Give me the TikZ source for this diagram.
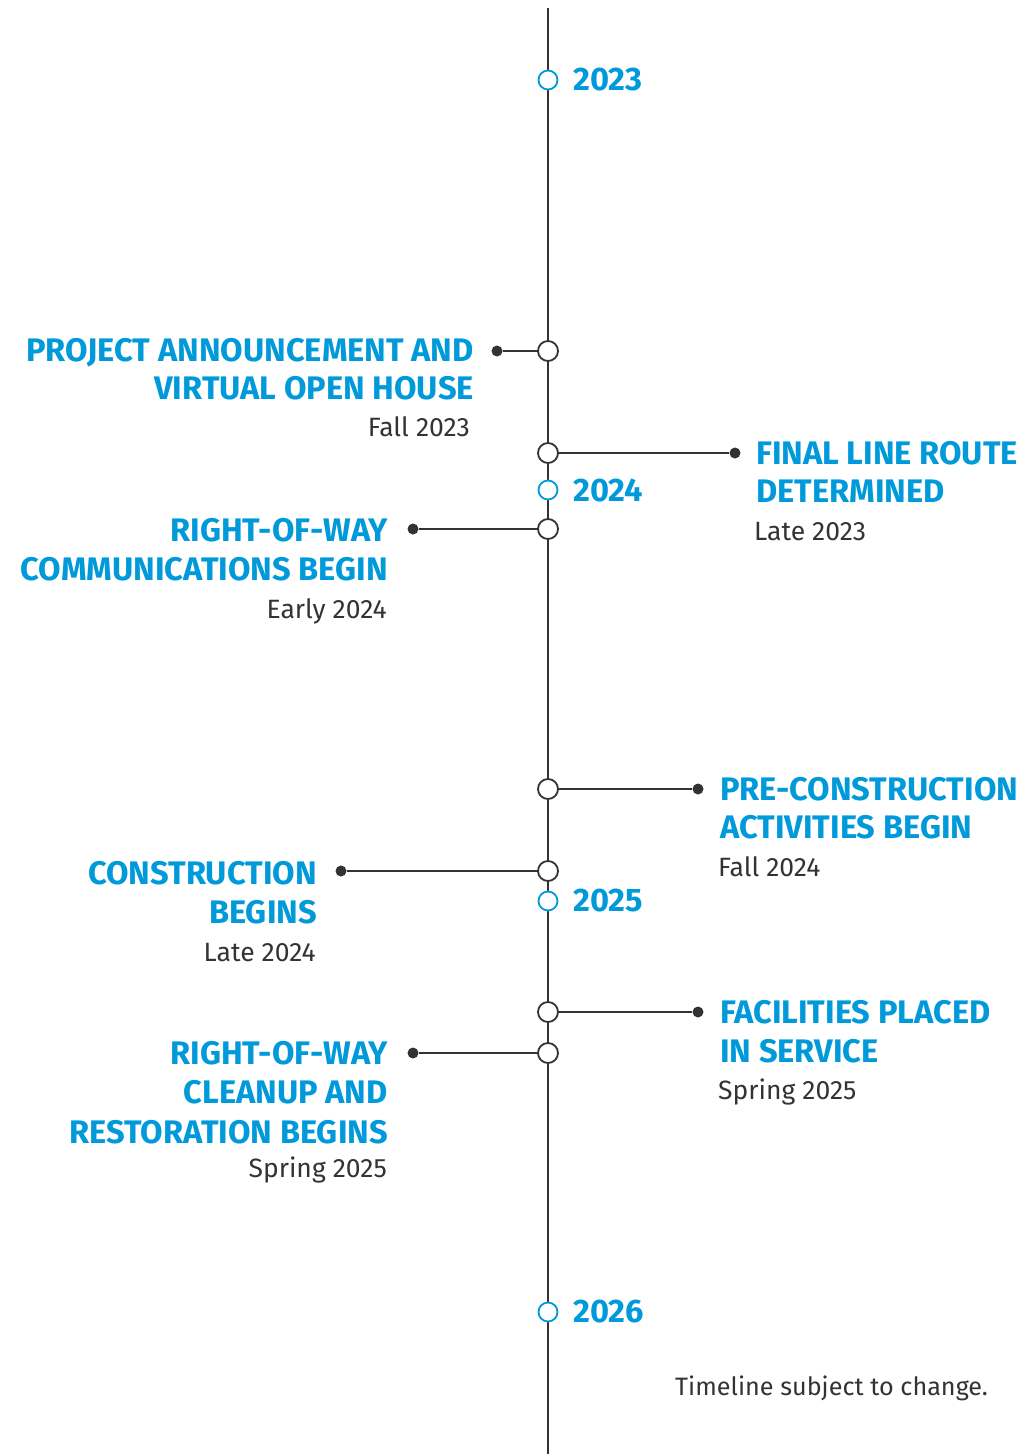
\documentclass[tikz,border=0pt]{standalone}
\usepackage{fontspec}
\setmainfont{Fira Sans}
\definecolor{tlblue}{RGB}{0,153,218}
\definecolor{tlgray}{RGB}{51,51,51}
\begin{document}
\begin{tikzpicture}[x=1pt,y=-1pt,
  head/.style={inner sep=0pt,text=tlblue,font=\fontsize{32.6}{32.6}\selectfont\bfseries},
  sub/.style={inner sep=0pt,text=tlgray,font=\fontsize{26.5}{26.5}\selectfont},
  notestyle/.style={inner sep=0pt,text=tlgray,font=\fontsize{25.2}{25.2}\selectfont},
  yearc/.style={circle,draw=tlblue,line width=1.8pt,fill=white,minimum size=19pt,inner sep=0pt},
  evc/.style={circle,draw=tlgray,line width=1.8pt,fill=white,minimum size=20pt,inner sep=0pt},
  dotc/.style={circle,fill=tlgray,minimum size=11pt,inner sep=0pt},
  conn/.style={draw=tlgray,line width=1.8pt}]
\useasboundingbox (0,0) rectangle (1022,1454);
\coordinate (top) at (548,8);
\coordinate (bot) at (548,1454);
\draw[conn] (top) -- (bot);
% years
\node[yearc] (y23) at (548,80) {};
\node[yearc] (y24) at (548,490) {};
\node[yearc] (y25) at (548,901) {};
\node[yearc] (y26) at (548,1312) {};
\node[head,anchor=west] (t23) at (573,80) {2023};
\node[head,anchor=west] (t24) at (573,490) {2024};
\node[head,anchor=west] (t25) at (573,901) {2025};
\node[head,anchor=west] (t26) at (573,1312) {2026};
% events
\node[dotc] (d1) at (497,351) {};
\node[evc] (e1) at (548,351) {};
\draw[conn] (d1) -- (e1);
\node[dotc] (d2) at (735,453) {};
\node[evc] (e2) at (548,453) {};
\draw[conn] (e2) -- (d2);
\node[dotc] (d3) at (413,529) {};
\node[evc] (e3) at (548,529) {};
\draw[conn] (d3) -- (e3);
\node[dotc] (d4) at (698,789) {};
\node[evc] (e4) at (548,789) {};
\draw[conn] (e4) -- (d4);
\node[dotc] (d5) at (341,871) {};
\node[evc] (e5) at (548,871) {};
\draw[conn] (d5) -- (e5);
\node[dotc] (d6) at (698,1012) {};
\node[evc] (e6) at (548,1012) {};
\draw[conn] (e6) -- (d6);
\node[dotc] (d7) at (413,1053) {};
\node[evc] (e7) at (548,1053) {};
\draw[conn] (d7) -- (e7);
% labels
\node[head,anchor=base east] (l1a) at (474,361) {PROJECT ANNOUNCEMENT AND};
\node[head,anchor=base east] (l1b) at (474,399) {VIRTUAL OPEN HOUSE};
\node[sub,anchor=base east] (l1c) at (470,436) {Fall 2023};
\node[head,anchor=base west] (l2a) at (756,464) {FINAL LINE ROUTE};
\node[head,anchor=base west] (l2b) at (756,502) {DETERMINED};
\node[sub,anchor=base west] (l2c) at (754,540) {Late 2023};
\node[head,anchor=base east] (l3a) at (388,541) {RIGHT-OF-WAY};
\node[head,anchor=base east] (l3b) at (388,580) {COMMUNICATIONS BEGIN};
\node[sub,anchor=base east] (l3c) at (387,618) {Early 2024};
\node[head,anchor=base west] (l4a) at (720,800) {PRE-CONSTRUCTION};
\node[head,anchor=base west] (l4b) at (720,838) {ACTIVITIES BEGIN};
\node[sub,anchor=base west] (l4c) at (718,876) {Fall 2024};
\node[head,anchor=base east] (l5a) at (317,884) {CONSTRUCTION};
\node[head,anchor=base east] (l5b) at (317,923) {BEGINS};
\node[sub,anchor=base east] (l5c) at (316,961) {Late 2024};
\node[head,anchor=base west] (l6a) at (720,1023) {FACILITIES PLACED};
\node[head,anchor=base west] (l6b) at (720,1062) {IN SERVICE};
\node[sub,anchor=base west] (l6c) at (718,1099) {Spring 2025};
\node[head,anchor=base east] (l7a) at (388,1064) {RIGHT-OF-WAY};
\node[head,anchor=base east] (l7b) at (388,1103) {CLEANUP AND};
\node[head,anchor=base east] (l7c) at (388,1143) {RESTORATION BEGINS};
\node[sub,anchor=base east] (l7d) at (387,1177) {Spring 2025};
\node[notestyle,anchor=base west] (note) at (675,1395) {Timeline subject to change.};
\end{tikzpicture}
\end{document}
